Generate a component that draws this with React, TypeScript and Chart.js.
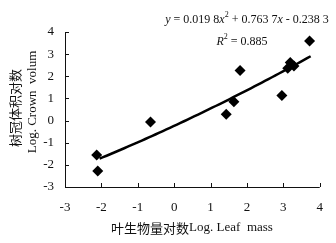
import React, { useEffect, useRef } from "react";
import { Chart, registerables } from "chart.js";

Chart.register(...registerables);

const leafMass = [-2.13, -2.1, -0.65, 1.43, 1.64, 1.81, 2.96, 3.12, 3.19, 3.29, 3.72];
const crownVolume = [-1.55, -2.28, -0.07, 0.29, 0.85, 2.26, 1.13, 2.36, 2.62, 2.47, 3.59];
const fitCoefficients = [0.0198, 0.7637, -0.2383];
const fitRange = [-2.05, 3.75];
const xTicks = [-3, -2, -1, 0, 1, 2, 3, 4];
const yTicks = [-3, -2, -1, 0, 1, 2, 3, 4];

const SERIF = "'Liberation Serif', 'Times New Roman', serif";
const CJK = "'Noto Sans CJK SC', 'Noto Sans CJK JP', sans-serif";

function fitPoints() {
  const pts: { x: number; y: number }[] = [];
  const [a, b, c] = fitCoefficients;
  const n = 60;
  for (let i = 0; i <= n; i++) {
    const x = fitRange[0] + ((fitRange[1] - fitRange[0]) * i) / n;
    pts.push({ x, y: a * x * x + b * x + c });
  }
  return pts;
}

const decorPlugin = {
  id: "decor",
  afterDraw(chart: any) {
    const { ctx, chartArea, scales } = chart;
    const xs = scales.x;
    const ys = scales.y;
    ctx.save();
    // axes
    ctx.strokeStyle = "#111";
    ctx.lineWidth = 1;
    ctx.beginPath();
    ctx.moveTo(chartArea.left + 0.5, chartArea.top);
    ctx.lineTo(chartArea.left + 0.5, chartArea.bottom + 0.5);
    ctx.lineTo(chartArea.right, chartArea.bottom + 0.5);
    ctx.stroke();
    // inward ticks
    ctx.beginPath();
    yTicks.forEach((v) => {
      const py = Math.round(ys.getPixelForValue(v)) + 0.5;
      ctx.moveTo(chartArea.left, py);
      ctx.lineTo(chartArea.left + 4, py);
    });
    xTicks.forEach((v) => {
      const px = Math.round(xs.getPixelForValue(v)) + 0.5;
      ctx.moveTo(px, chartArea.bottom);
      ctx.lineTo(px, chartArea.bottom - 4);
    });
    ctx.stroke();

    ctx.fillStyle = "#111";
    ctx.textBaseline = "middle";
    // x title
    const xt1 = "叶生物量对数";
    const xt2 = "Log. Leaf  mass";
    ctx.font = `13px ${CJK}`;
    const w1 = ctx.measureText(xt1).width;
    ctx.font = `13px ${SERIF}`;
    const w2 = ctx.measureText(xt2).width;
    let sx = 192 - (w1 + w2) / 2;
    ctx.textAlign = "left";
    ctx.font = `13px ${CJK}`;
    ctx.fillText(xt1, sx, 228);
    ctx.font = `13px ${SERIF}`;
    ctx.fillText(xt2, sx + w1, 228);

    // y title (two lines, rotated)
    ctx.save();
    ctx.translate(15, 108);
    ctx.rotate(-Math.PI / 2);
    ctx.textAlign = "center";
    ctx.font = `13px ${CJK}`;
    ctx.fillText("树冠体积对数", 0, 0);
    ctx.font = `13px ${SERIF}`;
    ctx.fillText("Log. Crown  volum", 6, 18);
    ctx.restore();

    // equation
    const drawRuns = (runs: { t: string; it?: boolean; sup?: boolean }[], cx: number, cy: number) => {
      const fontFor = (r: any) =>
        `${r.it ? "italic " : ""}${r.sup ? 8 : 12}px ${SERIF}`;
      let total = 0;
      runs.forEach((r) => {
        ctx.font = fontFor(r);
        total += ctx.measureText(r.t).width;
      });
      let x = cx - total / 2;
      ctx.textAlign = "left";
      runs.forEach((r) => {
        ctx.font = fontFor(r);
        ctx.fillText(r.t, x, r.sup ? cy - 5 : cy);
        x += ctx.measureText(r.t).width;
      });
    };
    drawRuns(
      [
        { t: "y", it: true },
        { t: " = 0.019 8" },
        { t: "x", it: true },
        { t: "2", sup: true },
        { t: " + 0.763 7" },
        { t: "x", it: true },
        { t: " - 0.238 3" },
      ],
      247,
      20
    );
    drawRuns(
      [
        { t: "R", it: true },
        { t: "2", sup: true },
        { t: " = 0.885" },
      ],
      242,
      42
    );
    ctx.restore();
  },
};

export default function App() {
  const ref = useRef<HTMLCanvasElement | null>(null);
  useEffect(() => {
    if (!ref.current) return;
    const chart = new Chart(ref.current, {
      type: "scatter",
      data: {
        datasets: [
          {
            data: leafMass.map((x, i) => ({ x, y: crownVolume[i] })),
            pointStyle: "rectRot",
            pointRadius: 5.5,
            pointHoverRadius: 5.5,
            backgroundColor: "#000",
            borderColor: "#000",
            borderWidth: 0,
          },
          {
            data: fitPoints(),
            showLine: true,
            pointRadius: 0,
            borderColor: "#000",
            borderWidth: 2.5,
            fill: false,
          } as any,
        ],
      },
      options: {
        animation: false,
        responsive: false,
        maintainAspectRatio: false,
        events: [],
        layout: { padding: { top: 32, right: 16, left: 0, bottom: 0 } },
        plugins: {
          legend: { display: false },
          tooltip: { enabled: false },
          title: { display: false },
        },
        scales: {
          x: {
            type: "linear",
            min: -3,
            max: 4,
            border: { display: false },
            grid: { display: false, drawTicks: false },
            afterFit: (s: any) => {
              s.height = 56;
            },
            afterBuildTicks: (s: any) => {
              s.ticks = xTicks.map((v) => ({ value: v }));
            },
            ticks: {
              color: "#111",
              padding: 13,
              maxRotation: 0,
              font: { family: SERIF, size: 13 },
            },
          },
          y: {
            type: "linear",
            min: -3,
            max: 4,
            border: { display: false },
            grid: { display: false, drawTicks: false },
            afterFit: (s: any) => {
              s.width = 65;
            },
            afterBuildTicks: (s: any) => {
              s.ticks = yTicks.map((v) => ({ value: v }));
            },
            ticks: {
              color: "#111",
              padding: 11,
              font: { family: SERIF, size: 13 },
            },
          },
        },
      },
      plugins: [decorPlugin],
    });
    return () => chart.destroy();
  }, []);
  return (
    <div style={{ position: "absolute", left: 0, top: 0, width: 336, height: 243, background: "#fff" }}>
      <canvas ref={ref} width={336} height={243} style={{ width: 336, height: 243 }} />
    </div>
  );
}
